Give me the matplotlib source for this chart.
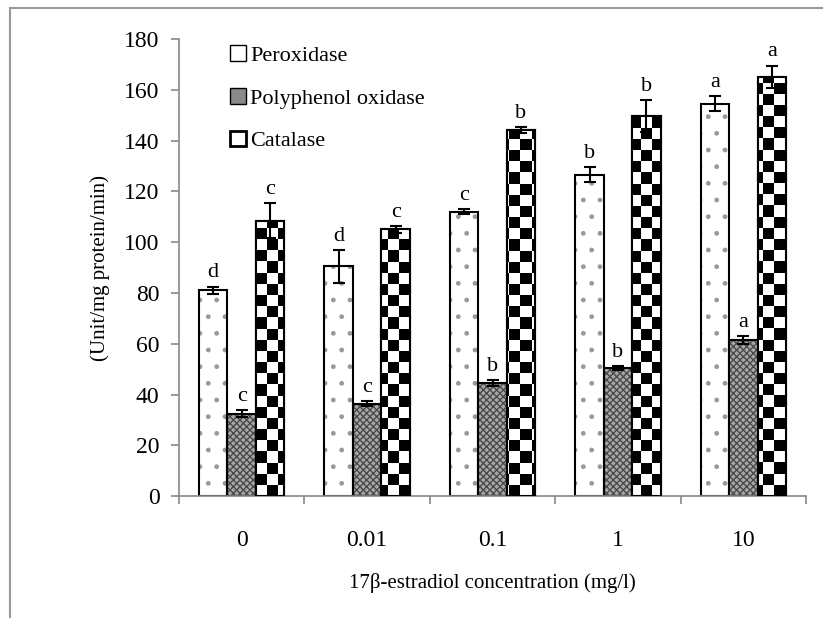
import numpy as np
import matplotlib.pyplot as plt
from matplotlib.patches import Patch, Rectangle

plt.rcParams['font.family'] = ['Liberation Serif', 'DejaVu Serif']

# data
concentrations = ["0", "0.01", "0.1", "1", "10"]
peroxidase = [81, 90.5, 112, 126.5, 154.5]
peroxidase_err = [1.5, 6.5, 1.0, 3.0, 3.0]
peroxidase_sig = ["d", "d", "c", "b", "a"]
ppo = [32.5, 36.5, 44.5, 50.5, 61.5]
ppo_err = [1.5, 0.8, 1.2, 0.8, 1.5]
ppo_sig = ["c", "c", "b", "b", "a"]
catalase = [108.5, 105, 144, 149.5, 165]
catalase_err = [7.0, 1.5, 1.2, 6.3, 4.5]
catalase_sig = ["c", "c", "b", "b", "a"]

fig = plt.figure(figsize=(8.23, 6.18), dpi=100)
ax = fig.add_axes([0.2175, 0.197, 0.762, 0.74])

# outer gray frame (cut at right / bottom like the original)
fig.patches.append(Rectangle((10 / 823, -0.1), 1.2, 1.1 - 8 / 618, transform=fig.transFigure,
                             fill=False, edgecolor='#999999', linewidth=1.5))

x = np.arange(len(concentrations))
w = 0.227
err_kw = dict(ecolor='black', elinewidth=1.5, capsize=4.5, capthick=1.5, zorder=4)

# peroxidase: light gray sparse marks
ax.bar(x - w, peroxidase, w, color='white', edgecolor='#999999', hatch='.', linewidth=0)
ax.bar(x - w, peroxidase, w, fill=False, edgecolor='black', linewidth=1.5,
       yerr=peroxidase_err, error_kw=err_kw)

# polyphenol oxidase: dense gray pattern
ax.bar(x, ppo, w, color='#a8a8a8', edgecolor='#4a4a4a', hatch='xxxxx', linewidth=0)
ax.bar(x, ppo, w, fill=False, edgecolor='black', linewidth=1.5,
       yerr=ppo_err, error_kw=err_kw)

# catalase: checkerboard, drawn as a clipped image inside each bar
b3 = ax.bar(x + w, catalase, w, color='white', edgecolor='black', linewidth=1.5, zorder=2)
nx, ny = 57, 41
board = (np.add.outer(np.arange(ny), np.arange(nx)) % 2).astype(float)
for bar in b3:
    im = ax.imshow(board, cmap='gray', extent=(-0.5, 4.5, 0, 180), origin='lower',
                   interpolation='nearest', aspect='auto', zorder=2.1)
    im.set_clip_path(bar)
ax.bar(x + w, catalase, w, fill=False, edgecolor='black', linewidth=1.5, zorder=3,
       yerr=catalase_err, error_kw=err_kw)

# significance letters
for xs, vals, errs, sig in [(x - w, peroxidase, peroxidase_err, peroxidase_sig),
                            (x, ppo, ppo_err, ppo_sig),
                            (x + w, catalase, catalase_err, catalase_sig)]:
    for xi, v, e, s in zip(xs, vals, errs, sig):
        ax.annotate(s, (xi, v + e), xytext=(0, 3), textcoords='offset points',
                    ha='center', va='bottom', fontsize=16)

ax.set_xlim(-0.5, 4.5)
ax.set_ylim(0, 180)
ax.set_yticks(np.arange(0, 181, 20))
ax.set_xticks(x)
ax.set_xticklabels(concentrations)
ax.set_xticks(np.arange(-0.5, 4.6, 1), minor=True)
ax.tick_params(axis='x', which='major', length=0, labelsize=17, pad=24)
ax.tick_params(axis='x', which='minor', length=6, direction='out', color='#888888', width=1.2)
ax.tick_params(axis='y', length=6, direction='out', color='#888888', width=1.2, labelsize=17, pad=8)

for side in ['top', 'right']:
    ax.spines[side].set_visible(False)
for side in ['left', 'bottom']:
    ax.spines[side].set_color('#888888')
    ax.spines[side].set_linewidth(1.2)

ax.set_xlabel("17\u03b2-estradiol concentration (mg/l)", fontsize=15, labelpad=16)
ax.set_ylabel("(Unit/mg protein/min)", fontsize=15, labelpad=10)

handles = [Patch(facecolor='white', edgecolor='black', label='Peroxidase'),
           Patch(facecolor='#8a8a8a', edgecolor='black', label='Polyphenol oxidase'),
           Patch(facecolor='white', edgecolor='black', linewidth=2, label='Catalase')]
ax.legend(handles=handles, loc='upper left', bbox_to_anchor=(0.05, 1.03), frameon=False,
          prop={'family': 'Liberation Serif', 'size': 16}, handlelength=0.7,
          handleheight=0.7, handletextpad=0.2, labelspacing=1.0)

plt.savefig('out.png', dpi=100)
